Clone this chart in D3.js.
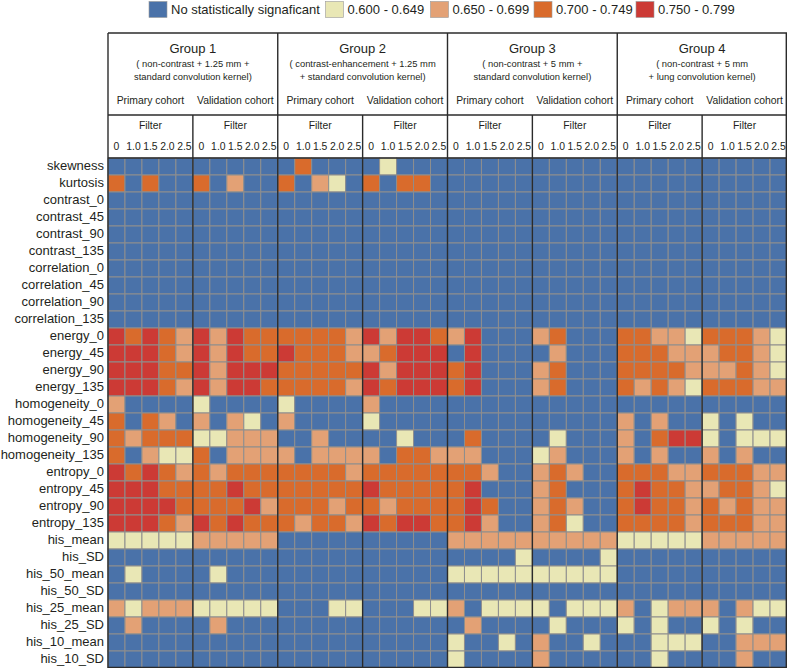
<!DOCTYPE html>
<html>
<head>
<meta charset="utf-8">
<script src="https://cdn.jsdelivr.net/npm/d3@7"></script>
<style>
  html, body { margin: 0; padding: 0; background: #fff; }
  svg { display: block; font-family: "Liberation Sans", Arial, sans-serif; }
</style>
</head>
<body>
<svg id="chart" width="787" height="668"></svg>
<script>
const rowLabels = ["skewness","kurtosis","contrast_0","contrast_45","contrast_90","contrast_135",
  "correlation_0","correlation_45","correlation_90","correlation_135",
  "energy_0","energy_45","energy_90","energy_135",
  "homogeneity_0","homogeneity_45","homogeneity_90","homogeneity_135",
  "entropy_0","entropy_45","entropy_90","entropy_135",
  "his_mean","his_SD","his_50_mean","his_50_SD","his_25_mean","his_25_SD","his_10_mean","his_10_SD"];
const groups = ["Group 1","Group 2","Group 3","Group 4"];
const groupNotes = [
  ["( non-contrast + 1.25 mm +", "standard convolution kernel)"],
  ["( contrast-enhancement + 1.25 mm", "+ standard convolution kernel)"],
  ["( non-contrast + 5 mm +", "standard convolution kernel)"],
  ["( non-contrast +  5 mm", "+ lung convolution kernel)"]
];
const cohorts = ["Primary cohort","Validation cohort"];
const filterLabel = "Filter";
const filters = ["0","1.0","1.5","2.0","2.5"];
const legendLabels = ["No statistically signaficant","0.600 - 0.649","0.650 - 0.699","0.700 - 0.749","0.750 - 0.799"];
// AUC category codes: 0 = not significant, 1..4 = legend bins
// each row: G1 primary(5) validation(5), G2 P V, G3 P V, G4 P V
const values = [
  [0,0,0,0,0, 0,0,0,0,0,  0,3,0,0,0, 0,1,0,0,0,  0,0,0,0,0, 0,0,0,0,0,  0,0,0,0,0, 0,0,0,0,0], // skewness
  [3,0,3,0,0, 3,0,2,0,0,  3,0,2,1,0, 3,0,3,3,0,  0,0,0,0,0, 0,0,0,0,0,  0,0,0,0,0, 0,0,0,0,0], // kurtosis
  [0,0,0,0,0, 0,0,0,0,0,  0,0,0,0,0, 0,0,0,0,0,  0,0,0,0,0, 0,0,0,0,0,  0,0,0,0,0, 0,0,0,0,0],
  [0,0,0,0,0, 0,0,0,0,0,  0,0,0,0,0, 0,0,0,0,0,  0,0,0,0,0, 0,0,0,0,0,  0,0,0,0,0, 0,0,0,0,0],
  [0,0,0,0,0, 0,0,0,0,0,  0,0,0,0,0, 0,0,0,0,0,  0,0,0,0,0, 0,0,0,0,0,  0,0,0,0,0, 0,0,0,0,0],
  [0,0,0,0,0, 0,0,0,0,0,  0,0,0,0,0, 0,0,0,0,0,  0,0,0,0,0, 0,0,0,0,0,  0,0,0,0,0, 0,0,0,0,0],
  [0,0,0,0,0, 0,0,0,0,0,  0,0,0,0,0, 0,0,0,0,0,  0,0,0,0,0, 0,0,0,0,0,  0,0,0,0,0, 0,0,0,0,0],
  [0,0,0,0,0, 0,0,0,0,0,  0,0,0,0,0, 0,0,0,0,0,  0,0,0,0,0, 0,0,0,0,0,  0,0,0,0,0, 0,0,0,0,0],
  [0,0,0,0,0, 0,0,0,0,0,  0,0,0,0,0, 0,0,0,0,0,  0,0,0,0,0, 0,0,0,0,0,  0,0,0,0,0, 0,0,0,0,0],
  [0,0,0,0,0, 0,0,0,0,0,  0,0,0,0,0, 0,0,0,0,0,  0,0,0,0,0, 0,0,0,0,0,  0,0,0,0,0, 0,0,0,0,0],
  [4,3,4,3,2, 4,2,4,3,3,  3,3,3,3,2, 4,2,4,4,3,  2,4,0,0,0, 2,3,0,0,0,  3,3,2,2,1, 3,3,3,2,1], // energy_0
  [4,4,4,3,2, 4,2,4,3,3,  4,3,3,3,2, 2,3,4,4,4,  0,4,0,0,0, 0,2,0,0,0,  3,3,3,2,2, 2,3,3,2,1], // energy_45
  [4,4,4,3,3, 4,2,4,4,4,  3,3,3,3,3, 4,2,4,4,4,  3,4,0,0,0, 2,3,0,0,0,  3,3,3,3,2, 2,2,3,2,1], // energy_90
  [4,4,4,3,2, 4,2,4,4,3,  3,3,3,3,2, 4,3,4,4,4,  3,4,0,0,0, 2,3,0,0,0,  3,2,3,2,1, 3,3,3,2,2], // energy_135
  [2,0,0,0,0, 1,0,0,0,0,  1,0,0,0,0, 2,0,0,0,0,  0,0,0,0,0, 0,0,0,0,0,  0,0,0,0,0, 0,0,0,0,0], // homogeneity_0
  [3,0,3,2,0, 2,0,2,1,0,  2,0,0,0,0, 1,0,0,0,0,  0,0,0,0,0, 0,0,0,0,0,  2,0,2,0,0, 1,0,1,0,0], // homogeneity_45
  [3,2,3,3,3, 1,1,2,2,2,  0,0,2,0,0, 0,0,1,0,0,  0,3,0,0,0, 0,1,0,0,0,  2,0,3,4,4, 1,0,1,1,1], // homogeneity_90
  [3,0,2,1,1, 3,0,2,2,2,  2,0,2,2,2, 2,0,3,3,2,  2,2,0,0,0, 1,2,0,0,0,  2,0,2,0,0, 2,0,2,0,0], // homogeneity_135
  [4,3,4,3,2, 3,2,3,3,3,  3,3,3,3,2, 3,3,3,3,3,  3,3,2,0,0, 2,3,2,0,0,  3,3,3,2,2, 3,3,3,2,2], // entropy_0
  [4,4,4,3,3, 3,3,4,3,3,  3,3,3,3,3, 4,3,3,3,3,  3,4,0,0,0, 2,3,0,0,0,  3,4,3,3,2, 2,3,3,2,1], // entropy_45
  [4,4,4,4,3, 3,3,3,4,2,  3,3,3,2,3, 3,2,3,3,3,  3,4,3,0,0, 2,3,2,0,0,  3,4,3,3,2, 3,2,3,2,2], // entropy_90
  [4,4,4,3,2, 4,3,4,3,3,  3,2,3,3,2, 4,3,4,4,3,  3,4,2,0,0, 2,3,1,0,0,  3,3,3,3,2, 3,3,3,2,2], // entropy_135
  [1,1,1,1,1, 2,2,2,2,2,  0,0,0,0,0, 0,0,0,0,0,  2,2,2,2,2, 2,2,2,2,2,  1,1,1,1,1, 2,2,2,2,2], // his_mean
  [0,0,0,0,0, 0,0,0,0,0,  0,0,0,0,0, 0,0,0,0,0,  0,0,0,0,1, 0,0,0,0,1,  0,0,0,0,0, 0,0,0,0,0], // his_SD
  [0,1,0,0,0, 0,1,0,0,0,  0,0,0,0,0, 0,0,0,0,0,  1,1,1,1,1, 1,1,1,1,1,  0,0,0,0,0, 0,0,0,0,0], // his_50_mean
  [0,0,0,0,0, 0,0,0,0,0,  0,0,0,0,0, 0,0,0,0,0,  0,0,0,0,0, 0,0,0,0,0,  0,0,0,0,0, 0,0,0,0,0], // his_50_SD
  [2,1,2,2,2, 1,1,1,1,1,  0,0,0,1,1, 0,0,0,1,1,  2,0,1,1,1, 1,0,1,1,1,  2,0,1,2,2, 2,0,2,1,1], // his_25_mean
  [0,2,0,0,0, 0,2,0,0,0,  0,0,0,0,0, 0,0,0,0,0,  0,2,0,0,0, 0,1,0,0,0,  1,0,1,0,0, 1,0,1,0,0], // his_25_SD
  [0,0,0,0,0, 0,0,0,0,0,  0,0,0,0,0, 0,0,0,0,0,  1,0,0,1,0, 2,0,0,1,0,  0,0,1,1,1, 0,0,2,2,2], // his_10_mean
  [0,0,0,0,0, 0,0,0,0,0,  0,0,0,0,0, 0,0,0,0,0,  1,0,0,0,0, 2,0,0,0,0,  0,0,1,0,0, 0,0,2,0,0]  // his_10_SD
];

const colKeys = groups.flatMap(g => cohorts.flatMap(c => filters.map(f => `${g}|${c}|${f}`)));

const svg = d3.select("#chart");
const left = 108, right = 787, heatTop = 158, heatBottom = 668, headTop = 33, midLine = 115;

const x = d3.scaleBand().domain(colKeys).range([left, right]);
const y = d3.scaleBand().domain(rowLabels).range([heatTop, heatBottom]);
const color = d3.scaleOrdinal().domain([0,1,2,3,4])
  .range(["#4a72a9","#e9e7b5","#e3a175","#d96b2c","#cc3a35"]);
const textColor = "#231f20";

// cells
const cells = rowLabels.flatMap((r, i) => values[i].map((v, j) => ({row: r, col: colKeys[j], v})));
svg.append("g").selectAll("rect").data(cells).join("rect")
  .attr("x", d => x(d.col)).attr("y", d => y(d.row))
  .attr("width", x.bandwidth()).attr("height", y.bandwidth())
  .attr("fill", d => color(d.v))
  .attr("stroke", "#8e8e8e").attr("stroke-width", 1);

// row labels
const yAxis = svg.append("g").attr("transform", `translate(${left},0)`)
  .call(d3.axisLeft(y).tickSize(0).tickPadding(4));
yAxis.select(".domain").remove();
yAxis.selectAll("text").attr("font-size", 13).attr("fill", textColor)
  .attr("font-family", "'Liberation Sans', Arial, sans-serif").attr("dy", "0.24em");

// header & structure
const bw = x.bandwidth();
const head = svg.append("g").attr("fill", textColor).attr("text-anchor", "middle");
groups.forEach((g, gi) => {
  const gx0 = x(`${g}|${cohorts[0]}|${filters[0]}`);
  const gx1 = x(`${g}|${cohorts[1]}|${filters[4]}`) + bw;
  const cx = (gx0 + gx1) / 2;
  head.append("text").attr("x", cx).attr("y", 53).attr("font-size", 13).text(g);
  head.append("text").attr("x", cx).attr("y", 67).attr("font-size", 9.4).text(groupNotes[gi][0]);
  head.append("text").attr("x", cx).attr("y", 80).attr("font-size", 9.4).text(groupNotes[gi][1]);
  cohorts.forEach(c => {
    const cx0 = x(`${g}|${c}|${filters[0]}`);
    const cx1 = x(`${g}|${c}|${filters[4]}`) + bw;
    head.append("text").attr("x", (cx0 + cx1) / 2).attr("y", 103.5).attr("font-size", 10.4).text(c);
    head.append("text").attr("x", (cx0 + cx1) / 2).attr("y", 129).attr("font-size", 10.4).text(filterLabel);
    filters.forEach(f => {
      head.append("text").attr("x", x(`${g}|${c}|${f}`) + bw / 2).attr("y", 150)
        .attr("font-size", 10.4).text(f);
    });
  });
});

const lines = svg.append("g").attr("stroke", "#2b2b2b").attr("stroke-width", 1.4).attr("fill", "none");
// horizontal
[headTop, midLine, heatTop].forEach(yy => {
  lines.append("line").attr("x1", left).attr("x2", right).attr("y1", yy).attr("y2", yy);
});
lines.append("line").attr("x1", left).attr("x2", right).attr("y1", heatBottom - 0.5).attr("y2", heatBottom - 0.5);
// group verticals
groups.forEach(g => {
  const gx0 = x(`${g}|${cohorts[0]}|${filters[0]}`);
  lines.append("line").attr("x1", gx0).attr("x2", gx0).attr("y1", headTop).attr("y2", heatBottom);
  const cxv = x(`${g}|${cohorts[1]}|${filters[0]}`);
  lines.append("line").attr("x1", cxv).attr("x2", cxv).attr("y1", midLine).attr("y2", heatBottom);
});
lines.append("line").attr("x1", right - 0.7).attr("x2", right - 0.7).attr("y1", headTop).attr("y2", heatBottom);

// legend
const legendX = [149, 325.5, 430.5, 534, 636];
const legend = svg.append("g");
legendLabels.forEach((lab, i) => {
  legend.append("rect").attr("x", legendX[i]).attr("y", 1.5).attr("width", 18).attr("height", 16)
    .attr("fill", color(i)).attr("stroke", "#9a9a9a").attr("stroke-width", 0.6);
  legend.append("text").attr("x", legendX[i] + 22).attr("y", 14).attr("font-size", 13)
    .attr("fill", textColor).text(lab);
});
</script>
</body>
</html>
